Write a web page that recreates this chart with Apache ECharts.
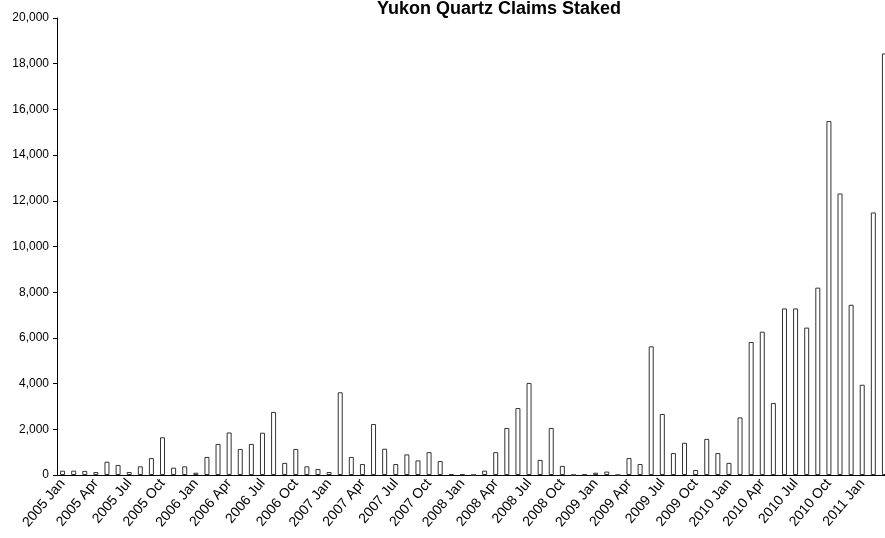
<!DOCTYPE html>
<html>
<head>
<meta charset="utf-8">
<script src="https://cdn.jsdelivr.net/npm/echarts@6/dist/echarts.min.js"></script>
<style>
  html, body { margin: 0; padding: 0; background: #fff; }
  #main { width: 885px; height: 538px; }
</style>
</head>
<body>
<div id="main"></div>
<script>
// monthly claims staked, Jan 2005 - Mar 2011
var years = ['2005', '2006', '2007', '2008', '2009', '2010', '2011'];
var months = ['Jan', 'Feb', 'Mar', 'Apr', 'May', 'Jun', 'Jul', 'Aug', 'Sep', 'Oct', 'Nov', 'Dec'];

var claims2005 = [190, 190, 180, 130, 580, 440, 130, 380, 740, 1650, 320, 380];
var claims2006 = [100, 790, 1360, 1860, 1140, 1360, 1850, 2760, 530, 1140, 380, 260];
var claims2007 = [130, 3620, 790, 480, 2230, 1150, 480, 900, 640, 1000, 610, 30];
var claims2008 = [30, 0, 190, 1000, 2060, 2930, 4030, 660, 2060, 400, 0, 20];
var claims2009 = [100, 150, 0, 740, 480, 5630, 2670, 960, 1410, 220, 1580, 960];
var claims2010 = [530, 2520, 5820, 6270, 3150, 7290, 7290, 6450, 8200, 15490, 12320, 7450];
var claims2011 = [3950, 11490, 18450];

var claims = [].concat(claims2005, claims2006, claims2007, claims2008, claims2009, claims2010, claims2011);

var categories = [];
for (var i = 0; i < claims.length; i++) {
  categories.push(years[Math.floor(i / 12)] + ' ' + months[i % 12]);
}

var font = 'Arial, "Liberation Sans", sans-serif';

var myChart = echarts.init(document.getElementById('main'));

var option = {
  animation: false,
  title: {
    text: 'Yukon Quartz Claims Staked',
    left: 377,
    top: 0,
    padding: 0,
    textStyle: {
      fontFamily: font,
      fontSize: 18,
      fontWeight: 'bold',
      color: '#000'
    }
  },
  grid: {
    left: 57,
    width: 833,
    top: 18,
    bottom: 63,
    outerBoundsMode: 'none'
  },
  xAxis: {
    type: 'category',
    data: categories,
    boundaryGap: true,
    axisLine: { lineStyle: { color: '#000', width: 1 } },
    axisTick: { interval: 0, length: 4, lineStyle: { color: '#000' } },
    axisLabel: {
      interval: 2,
      rotate: 50,
      margin: 6,
      fontFamily: font,
      fontSize: 14,
      color: '#000'
    },
    splitLine: { show: false }
  },
  yAxis: {
    type: 'value',
    min: 0,
    max: 20000,
    interval: 2000,
    axisLine: { show: true, lineStyle: { color: '#000', width: 1 } },
    axisTick: { show: true, length: 4, lineStyle: { color: '#000' } },
    axisLabel: {
      margin: 8,
      fontFamily: font,
      fontSize: 12,
      color: '#000',
      formatter: function (v) {
        return v.toLocaleString('en-US');
      }
    },
    splitLine: { show: false }
  },
  series: [
    {
      name: 'Claims',
      type: 'bar',
      data: claims,
      barWidth: 5,
      itemStyle: {
        color: '#fff',
        borderColor: '#333',
        borderWidth: 1
      }
    }
  ]
};

myChart.setOption(option);
</script>
</body>
</html>
